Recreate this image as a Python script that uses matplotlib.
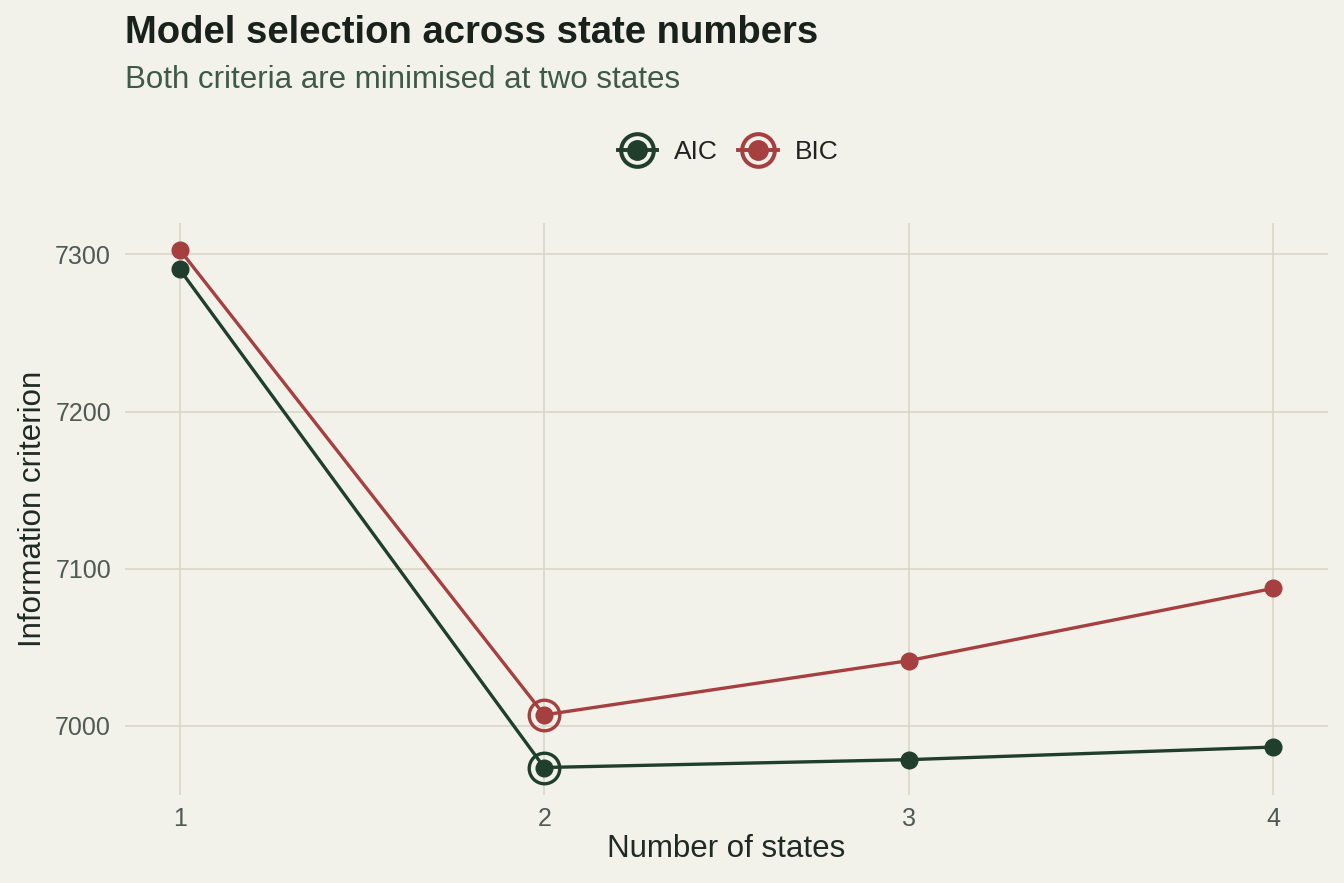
import matplotlib
matplotlib.use("Agg")
import matplotlib.pyplot as plt
from matplotlib.lines import Line2D

# Data
states = [1, 2, 3, 4]
aic = [7290.5, 6973.5, 6978.5, 6986.5]
bic = [7303.0, 7007.0, 7041.5, 7087.5]

BG = "#f2f1ea"
GRID = "#d8d7c6"
AIC_COL = "#1f3f2c"
BIC_COL = "#a63f3f"

plt.rcParams["font.family"] = ["Liberation Sans", "DejaVu Sans"]

fig = plt.figure(figsize=(13.44, 8.83), dpi=100, facecolor=BG)
ax = fig.add_axes([125 / 1344, 88 / 883, 1203 / 1344, 572 / 883])
ax.set_facecolor(BG)

for vals, col in [(aic, AIC_COL), (bic, BIC_COL)]:
    ax.plot(states, vals, color=col, lw=2.4, marker="o", ms=12, zorder=3)
    i = vals.index(min(vals))
    ax.plot(states[i], vals[i], marker="o", ms=22, mfc="none", mec=col,
            mew=2.4, ls="none", zorder=4)

ax.set_xlim(0.85, 4.15)
ax.set_ylim(6956, 7320)
ax.set_xticks(states)
ax.set_yticks([7000, 7100, 7200, 7300])
ax.grid(True, color=GRID, lw=1.2)
ax.set_axisbelow(True)
for s in ax.spines.values():
    s.set_visible(False)
ax.tick_params(axis="x", length=0, labelsize=18, labelcolor="#4e5a53", pad=9)
ax.tick_params(axis="y", length=0, labelsize=18, labelcolor="#4e5a53", pad=10)

ax.set_xlabel("Number of states", fontsize=22.5, color="#1f2a24", labelpad=2)
ax.set_ylabel("Information criterion", fontsize=22.5, color="#1f2a24", labelpad=5)

fig.text(125 / 1344, 1 - 33 / 883, "Model selection across state numbers",
         fontsize=27.5, fontweight="bold", color="#18211c", va="center")
fig.text(125 / 1344, 1 - 80 / 883, "Both criteria are minimised at two states",
         fontsize=22.5, color="#3d5a46", va="center")

# Legend
handles = []
for col in [AIC_COL, BIC_COL]:
    handles.append((Line2D([], [], color=col, lw=2.8, marker="o", ms=14),
                    Line2D([], [], ls="none", marker="o", ms=23.5, mfc="none",
                           mec=col, mew=2.9)))
leg = fig.legend(handles, ["AIC", "BIC"], loc="center",
                 bbox_to_anchor=(728 / 1344, 1 - 152 / 883), ncol=2,
                 frameon=False, fontsize=19, handlelength=1.5,
                 columnspacing=0.75, handletextpad=0.65)
for t in leg.get_texts():
    t.set_color("#222222")

fig.savefig("out.png", dpi=100, facecolor=BG)
